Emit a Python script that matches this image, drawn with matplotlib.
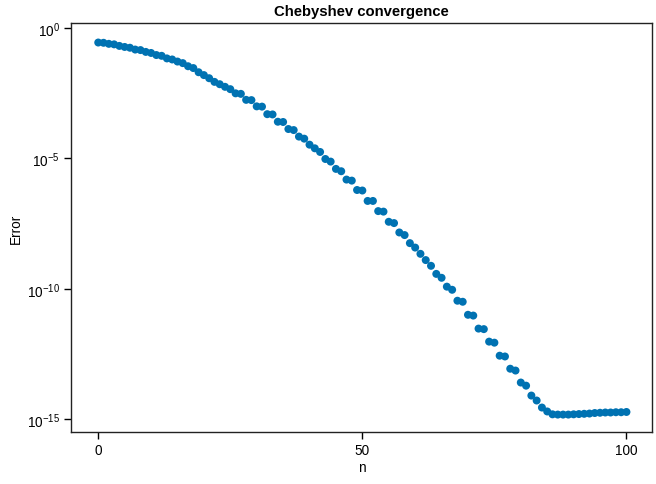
import numpy as np
import matplotlib
matplotlib.use("Agg")
import matplotlib.pyplot as plt
from matplotlib.ticker import FixedLocator, LogFormatterSciNotation, NullLocator

plt.rcParams['font.family'] = ['Liberation Sans', 'DejaVu Sans']
plt.rcParams['mathtext.fontset'] = 'custom'
plt.rcParams['mathtext.rm'] = 'Liberation Sans'
plt.rcParams['mathtext.it'] = 'Liberation Sans:italic'

# error (log10), n = 0..100
n = np.arange(0, 101)
log_err = [
    -0.55, -0.56, -0.60, -0.62, -0.68, -0.72, -0.75, -0.82, -0.84, -0.91,
    -0.95, -1.03, -1.06, -1.16, -1.20, -1.28, -1.34, -1.46, -1.53, -1.69,
    -1.80, -1.92, -2.06, -2.15, -2.25, -2.34, -2.50, -2.52, -2.75, -2.76,
    -3.00, -3.01, -3.30, -3.31, -3.59, -3.60, -3.87, -3.91, -4.16, -4.24,
    -4.47, -4.61, -4.75, -5.02, -5.12, -5.40, -5.49, -5.81, -5.85, -6.21,
    -6.23, -6.63, -6.63, -7.02, -7.04, -7.43, -7.48, -7.84, -7.94, -8.25,
    -8.42, -8.66, -8.90, -9.12, -9.43, -9.58, -9.92, -10.04, -10.46, -10.50,
    -11.00, -11.03, -11.53, -11.55, -12.03, -12.07, -12.57, -12.60, -13.07, -13.14,
    -13.60, -13.72, -14.10, -14.29, -14.56, -14.71, -14.82, -14.83, -14.83, -14.83,
    -14.82, -14.81, -14.80, -14.79, -14.77, -14.76, -14.75, -14.75, -14.74, -14.74,
    -14.73,
]
err = 10.0 ** np.array(log_err)

xticks = [0, 50, 100]
yticks = [1e0, 1e-5, 1e-10, 1e-15]

fig = plt.figure(figsize=(6.56, 4.85), dpi=100)
ax = fig.add_axes([0.1087, 0.1066, 0.9944 - 0.1087, 0.95 - 0.1066])

ax.scatter(n, err, s=33, color='#0072B2', edgecolors='none', zorder=3)

ax.set_yscale('log')
ax.set_xlim(-5.1, 104.9)
ax.set_ylim(10 ** -15.51, 10 ** 0.19)
ax.xaxis.set_major_locator(FixedLocator(xticks))
ax.yaxis.set_major_locator(FixedLocator(yticks))
ax.yaxis.set_minor_locator(NullLocator())
ax.yaxis.set_major_formatter(LogFormatterSciNotation())

ax.tick_params(axis='both', direction='out', length=5, width=1, labelsize=9.8,
               colors='black', pad=3)
ax.tick_params(top=False, right=False)
for s in ax.spines.values():
    s.set_linewidth(1)
    s.set_color('#222222')

ax.set_title('Chebyshev convergence', fontsize=10.7, fontweight='bold', pad=6)
ax.set_xlabel('n', fontsize=9.8, labelpad=2)
ax.set_ylabel('Error', fontsize=9.8, labelpad=3)

fig.savefig('out.png', dpi=100)
